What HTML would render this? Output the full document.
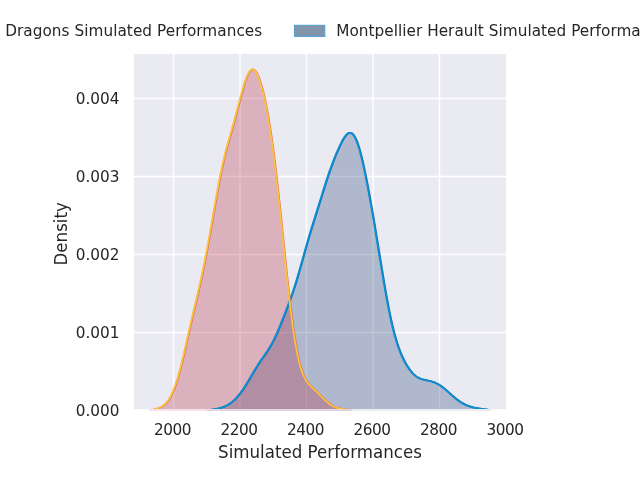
<!DOCTYPE html>
<html lang="en"><head><meta charset="utf-8"><title>Simulated Performances</title>
<style>
html,body{margin:0;padding:0;background:#fff;}
body{width:640px;height:480px;overflow:hidden;}
svg{display:block;}
text{font-family:"DejaVu Sans","Liberation Sans",sans-serif;fill:#262626;}
.tick text{font-size:15.28px;}
.lab{font-size:16.67px;}
.leg text{font-size:15.28px;}
</style></head><body>
<svg width="640" height="480" viewBox="0 0 640 480">
<defs><clipPath id="ax"><rect x="134.0" y="54.0" width="372.0" height="355.05"/></clipPath></defs>
<rect width="640" height="480" fill="#ffffff"/>
<rect x="134.0" y="54.0" width="372.0" height="355.2" fill="#eaeaf2"/>
<g stroke="#ffffff" stroke-width="1.39" stroke-linecap="butt"><line x1="173.5" y1="54.0" x2="173.5" y2="409.2"/><line x1="240" y1="54.0" x2="240" y2="409.2"/><line x1="306.5" y1="54.0" x2="306.5" y2="409.2"/><line x1="373" y1="54.0" x2="373" y2="409.2"/><line x1="439.5" y1="54.0" x2="439.5" y2="409.2"/><line x1="134.0" y1="332.5" x2="506.0" y2="332.5"/><line x1="134.0" y1="254.5" x2="506.0" y2="254.5"/><line x1="134.0" y1="176.5" x2="506.0" y2="176.5"/><line x1="134.0" y1="98.5" x2="506.0" y2="98.5"/></g>
<g clip-path="url(#ax)">
<path d="M206.50,410.54 L207.00,410.46 L207.50,410.38 L208.00,410.30 L208.50,410.23 L209.00,410.15 L209.50,410.07 L210.00,409.99 L210.50,409.91 L211.00,409.83 L211.50,409.75 L212.00,409.67 L212.50,409.59 L213.00,409.50 L213.50,409.42 L214.00,409.33 L214.50,409.24 L215.00,409.14 L215.50,409.05 L216.00,408.95 L216.50,408.84 L217.00,408.74 L217.50,408.63 L218.00,408.51 L218.50,408.39 L219.00,408.26 L219.50,408.13 L220.00,408.00 L220.50,407.85 L221.00,407.70 L221.50,407.55 L222.00,407.38 L222.50,407.20 L223.00,407.02 L223.50,406.82 L224.00,406.62 L224.50,406.40 L225.00,406.18 L225.50,405.94 L226.00,405.70 L226.50,405.44 L227.00,405.17 L227.50,404.89 L228.00,404.59 L228.50,404.29 L229.00,403.97 L229.50,403.64 L230.00,403.29 L230.50,402.94 L231.00,402.56 L231.50,402.18 L232.00,401.78 L232.50,401.37 L233.00,400.94 L233.50,400.50 L234.00,400.04 L234.50,399.57 L235.00,399.08 L235.50,398.58 L236.00,398.06 L236.50,397.53 L237.00,396.98 L237.50,396.42 L238.00,395.84 L238.50,395.24 L239.00,394.63 L239.50,394.00 L240.00,393.36 L240.50,392.70 L241.00,392.03 L241.50,391.34 L242.00,390.64 L242.50,389.92 L243.00,389.19 L243.50,388.45 L244.00,387.69 L244.50,386.92 L245.00,386.14 L245.50,385.34 L246.00,384.54 L246.50,383.73 L247.00,382.90 L247.50,382.07 L248.00,381.24 L248.50,380.39 L249.00,379.55 L249.50,378.69 L250.00,377.84 L250.50,376.98 L251.00,376.12 L251.50,375.27 L252.00,374.41 L252.50,373.56 L253.00,372.71 L253.50,371.86 L254.00,371.02 L254.50,370.19 L255.00,369.36 L255.50,368.54 L256.00,367.72 L256.50,366.92 L257.00,366.12 L257.50,365.33 L258.00,364.56 L258.50,363.79 L259.00,363.03 L259.50,362.27 L260.00,361.53 L260.50,360.79 L261.00,360.06 L261.50,359.33 L262.00,358.61 L262.50,357.90 L263.00,357.18 L263.50,356.47 L264.00,355.75 L264.50,355.04 L265.00,354.32 L265.50,353.60 L266.00,352.87 L266.50,352.13 L267.00,351.38 L267.50,350.62 L268.00,349.85 L268.50,349.07 L269.00,348.27 L269.50,347.45 L270.00,346.62 L270.50,345.76 L271.00,344.89 L271.50,343.99 L272.00,343.08 L272.50,342.14 L273.00,341.18 L273.50,340.20 L274.00,339.20 L274.50,338.17 L275.00,337.13 L275.50,336.06 L276.00,334.97 L276.50,333.86 L277.00,332.74 L277.50,331.59 L278.00,330.43 L278.50,329.25 L279.00,328.06 L279.50,326.86 L280.00,325.64 L280.50,324.41 L281.00,323.17 L281.50,321.92 L282.00,320.67 L282.50,319.40 L283.00,318.13 L283.50,316.85 L284.00,315.57 L284.50,314.28 L285.00,312.99 L285.50,311.68 L286.00,310.38 L286.50,309.06 L287.00,307.74 L287.50,306.41 L288.00,305.08 L288.50,303.73 L289.00,302.37 L289.50,301.00 L290.00,299.62 L290.50,298.23 L291.00,296.82 L291.50,295.39 L292.00,293.94 L292.50,292.48 L293.00,291.00 L293.50,289.50 L294.00,287.98 L294.50,286.43 L295.00,284.87 L295.50,283.28 L296.00,281.67 L296.50,280.04 L297.00,278.39 L297.50,276.72 L298.00,275.03 L298.50,273.32 L299.00,271.60 L299.50,269.85 L300.00,268.10 L300.50,266.33 L301.00,264.56 L301.50,262.77 L302.00,260.98 L302.50,259.19 L303.00,257.39 L303.50,255.59 L304.00,253.80 L304.50,252.00 L305.00,250.22 L305.50,248.44 L306.00,246.67 L306.50,244.91 L307.00,243.16 L307.50,241.42 L308.00,239.70 L308.50,237.98 L309.00,236.28 L309.50,234.60 L310.00,232.92 L310.50,231.26 L311.00,229.61 L311.50,227.97 L312.00,226.34 L312.50,224.72 L313.00,223.11 L313.50,221.50 L314.00,219.90 L314.50,218.31 L315.00,216.71 L315.50,215.12 L316.00,213.53 L316.50,211.94 L317.00,210.35 L317.50,208.76 L318.00,207.16 L318.50,205.56 L319.00,203.96 L319.50,202.36 L320.00,200.76 L320.50,199.15 L321.00,197.54 L321.50,195.93 L322.00,194.33 L322.50,192.72 L323.00,191.12 L323.50,189.52 L324.00,187.93 L324.50,186.34 L325.00,184.76 L325.50,183.20 L326.00,181.64 L326.50,180.10 L327.00,178.57 L327.50,177.05 L328.00,175.56 L328.50,174.07 L329.00,172.61 L329.50,171.17 L330.00,169.74 L330.50,168.33 L331.00,166.95 L331.50,165.58 L332.00,164.23 L332.50,162.90 L333.00,161.59 L333.50,160.30 L334.00,159.03 L334.50,157.77 L335.00,156.53 L335.50,155.31 L336.00,154.11 L336.50,152.92 L337.00,151.76 L337.50,150.60 L338.00,149.47 L338.50,148.35 L339.00,147.26 L339.50,146.18 L340.00,145.13 L340.50,144.10 L341.00,143.09 L341.50,142.12 L342.00,141.17 L342.50,140.26 L343.00,139.38 L343.50,138.54 L344.00,137.74 L344.50,136.99 L345.00,136.29 L345.50,135.64 L346.00,135.05 L346.50,134.52 L347.00,134.05 L347.50,133.65 L348.00,133.32 L348.50,133.07 L349.00,132.90 L349.50,132.80 L350.00,132.80 L350.50,132.87 L351.00,133.04 L351.50,133.30 L352.00,133.66 L352.50,134.10 L353.00,134.65 L353.50,135.28 L354.00,136.02 L354.50,136.85 L355.00,137.78 L355.50,138.80 L356.00,139.92 L356.50,141.13 L357.00,142.43 L357.50,143.82 L358.00,145.29 L358.50,146.85 L359.00,148.50 L359.50,150.22 L360.00,152.02 L360.50,153.89 L361.00,155.84 L361.50,157.85 L362.00,159.92 L362.50,162.06 L363.00,164.26 L363.50,166.51 L364.00,168.82 L364.50,171.18 L365.00,173.58 L365.50,176.03 L366.00,178.53 L366.50,181.06 L367.00,183.64 L367.50,186.25 L368.00,188.90 L368.50,191.58 L369.00,194.29 L369.50,197.04 L370.00,199.81 L370.50,202.62 L371.00,205.45 L371.50,208.30 L372.00,211.18 L372.50,214.09 L373.00,217.01 L373.50,219.96 L374.00,222.93 L374.50,225.92 L375.00,228.93 L375.50,231.95 L376.00,234.99 L376.50,238.04 L377.00,241.10 L377.50,244.17 L378.00,247.25 L378.50,250.33 L379.00,253.41 L379.50,256.50 L380.00,259.58 L380.50,262.66 L381.00,265.73 L381.50,268.79 L382.00,271.83 L382.50,274.86 L383.00,277.86 L383.50,280.84 L384.00,283.80 L384.50,286.72 L385.00,289.61 L385.50,292.47 L386.00,295.28 L386.50,298.05 L387.00,300.78 L387.50,303.46 L388.00,306.09 L388.50,308.67 L389.00,311.19 L389.50,313.65 L390.00,316.06 L390.50,318.41 L391.00,320.70 L391.50,322.93 L392.00,325.10 L392.50,327.21 L393.00,329.25 L393.50,331.23 L394.00,333.15 L394.50,335.02 L395.00,336.82 L395.50,338.56 L396.00,340.25 L396.50,341.88 L397.00,343.45 L397.50,344.98 L398.00,346.45 L398.50,347.87 L399.00,349.24 L399.50,350.57 L400.00,351.86 L400.50,353.10 L401.00,354.30 L401.50,355.46 L402.00,356.58 L402.50,357.67 L403.00,358.72 L403.50,359.74 L404.00,360.73 L404.50,361.69 L405.00,362.61 L405.50,363.51 L406.00,364.38 L406.50,365.23 L407.00,366.04 L407.50,366.83 L408.00,367.59 L408.50,368.33 L409.00,369.04 L409.50,369.73 L410.00,370.39 L410.50,371.02 L411.00,371.63 L411.50,372.22 L412.00,372.78 L412.50,373.31 L413.00,373.82 L413.50,374.31 L414.00,374.77 L414.50,375.21 L415.00,375.63 L415.50,376.02 L416.00,376.39 L416.50,376.73 L417.00,377.06 L417.50,377.36 L418.00,377.64 L418.50,377.91 L419.00,378.15 L419.50,378.38 L420.00,378.59 L420.50,378.79 L421.00,378.97 L421.50,379.14 L422.00,379.29 L422.50,379.44 L423.00,379.57 L423.50,379.70 L424.00,379.82 L424.50,379.93 L425.00,380.04 L425.50,380.15 L426.00,380.25 L426.50,380.35 L427.00,380.45 L427.50,380.55 L428.00,380.66 L428.50,380.76 L429.00,380.87 L429.50,380.99 L430.00,381.11 L430.50,381.23 L431.00,381.37 L431.50,381.51 L432.00,381.66 L432.50,381.82 L433.00,381.99 L433.50,382.17 L434.00,382.36 L434.50,382.56 L435.00,382.77 L435.50,382.99 L436.00,383.22 L436.50,383.47 L437.00,383.73 L437.50,383.99 L438.00,384.28 L438.50,384.57 L439.00,384.87 L439.50,385.19 L440.00,385.51 L440.50,385.85 L441.00,386.20 L441.50,386.56 L442.00,386.93 L442.50,387.30 L443.00,387.69 L443.50,388.09 L444.00,388.49 L444.50,388.90 L445.00,389.32 L445.50,389.75 L446.00,390.18 L446.50,390.62 L447.00,391.06 L447.50,391.50 L448.00,391.95 L448.50,392.40 L449.00,392.85 L449.50,393.30 L450.00,393.75 L450.50,394.20 L451.00,394.65 L451.50,395.10 L452.00,395.55 L452.50,395.99 L453.00,396.43 L453.50,396.86 L454.00,397.29 L454.50,397.71 L455.00,398.12 L455.50,398.53 L456.00,398.93 L456.50,399.33 L457.00,399.71 L457.50,400.09 L458.00,400.46 L458.50,400.82 L459.00,401.17 L459.50,401.51 L460.00,401.84 L460.50,402.17 L461.00,402.48 L461.50,402.78 L462.00,403.08 L462.50,403.36 L463.00,403.63 L463.50,403.90 L464.00,404.16 L464.50,404.40 L465.00,404.64 L465.50,404.87 L466.00,405.09 L466.50,405.30 L467.00,405.51 L467.50,405.70 L468.00,405.89 L468.50,406.07 L469.00,406.25 L469.50,406.41 L470.00,406.57 L470.50,406.72 L471.00,406.87 L471.50,407.01 L472.00,407.14 L472.50,407.27 L473.00,407.40 L473.50,407.51 L474.00,407.63 L474.50,407.74 L475.00,407.84 L475.50,407.94 L476.00,408.03 L476.50,408.13 L477.00,408.21 L477.50,408.30 L478.00,408.38 L478.50,408.46 L479.00,408.53 L479.50,408.61 L480.00,408.68 L480.50,408.76 L481.00,408.83 L481.50,408.90 L482.00,408.97 L482.50,409.04 L483.00,409.11 L483.50,409.17 L484.00,409.24 L484.50,409.31 L485.00,409.38 L485.50,409.44 L486.00,409.51 L486.50,409.57 L487.00,409.64 L487.50,409.71 L488.00,409.77 L488.50,409.84 L489.00,409.91 L489.50,409.97 L490.00,410.04 L490.50,410.11 L491.00,410.18 L491.50,410.25 L491.50,410.5 L206.50,410.5 Z" fill="rgba(41,71,119,0.30)" stroke="rgba(41,71,119,0.30)" stroke-width="1"/>
<path d="M148.50,410.52 L149.00,410.43 L149.50,410.34 L150.00,410.25 L150.50,410.16 L151.00,410.07 L151.50,409.97 L152.00,409.87 L152.50,409.76 L153.00,409.66 L153.50,409.54 L154.00,409.43 L154.50,409.30 L155.00,409.17 L155.50,409.04 L156.00,408.89 L156.50,408.74 L157.00,408.58 L157.50,408.41 L158.00,408.23 L158.50,408.03 L159.00,407.83 L159.50,407.61 L160.00,407.37 L160.50,407.12 L161.00,406.86 L161.50,406.57 L162.00,406.27 L162.50,405.94 L163.00,405.59 L163.50,405.22 L164.00,404.82 L164.50,404.39 L165.00,403.93 L165.50,403.44 L166.00,402.92 L166.50,402.36 L167.00,401.76 L167.50,401.13 L168.00,400.45 L168.50,399.74 L169.00,398.98 L169.50,398.17 L170.00,397.32 L170.50,396.42 L171.00,395.47 L171.50,394.47 L172.00,393.42 L172.50,392.32 L173.00,391.16 L173.50,389.95 L174.00,388.68 L174.50,387.36 L175.00,385.98 L175.50,384.55 L176.00,383.06 L176.50,381.52 L177.00,379.92 L177.50,378.27 L178.00,376.57 L178.50,374.82 L179.00,373.02 L179.50,371.17 L180.00,369.28 L180.50,367.35 L181.00,365.38 L181.50,363.37 L182.00,361.32 L182.50,359.25 L183.00,357.15 L183.50,355.02 L184.00,352.87 L184.50,350.70 L185.00,348.51 L185.50,346.31 L186.00,344.10 L186.50,341.89 L187.00,339.66 L187.50,337.44 L188.00,335.22 L188.50,333.00 L189.00,330.79 L189.50,328.58 L190.00,326.38 L190.50,324.19 L191.00,322.00 L191.50,319.83 L192.00,317.67 L192.50,315.51 L193.00,313.37 L193.50,311.23 L194.00,309.10 L194.50,306.97 L195.00,304.85 L195.50,302.73 L196.00,300.60 L196.50,298.48 L197.00,296.35 L197.50,294.21 L198.00,292.06 L198.50,289.90 L199.00,287.73 L199.50,285.53 L200.00,283.31 L200.50,281.07 L201.00,278.81 L201.50,276.51 L202.00,274.19 L202.50,271.84 L203.00,269.45 L203.50,267.03 L204.00,264.57 L204.50,262.08 L205.00,259.55 L205.50,256.99 L206.00,254.39 L206.50,251.75 L207.00,249.09 L207.50,246.39 L208.00,243.66 L208.50,240.90 L209.00,238.11 L209.50,235.30 L210.00,232.47 L210.50,229.62 L211.00,226.75 L211.50,223.88 L212.00,220.99 L212.50,218.10 L213.00,215.21 L213.50,212.32 L214.00,209.44 L214.50,206.57 L215.00,203.71 L215.50,200.87 L216.00,198.05 L216.50,195.25 L217.00,192.49 L217.50,189.75 L218.00,187.06 L218.50,184.39 L219.00,181.77 L219.50,179.19 L220.00,176.66 L220.50,174.17 L221.00,171.73 L221.50,169.34 L222.00,167.00 L222.50,164.71 L223.00,162.47 L223.50,160.28 L224.00,158.14 L224.50,156.04 L225.00,153.99 L225.50,151.99 L226.00,150.02 L226.50,148.10 L227.00,146.20 L227.50,144.35 L228.00,142.51 L228.50,140.71 L229.00,138.92 L229.50,137.16 L230.00,135.40 L230.50,133.66 L231.00,131.92 L231.50,130.18 L232.00,128.44 L232.50,126.69 L233.00,124.94 L233.50,123.17 L234.00,121.39 L234.50,119.60 L235.00,117.79 L235.50,115.96 L236.00,114.12 L236.50,112.26 L237.00,110.38 L237.50,108.49 L238.00,106.59 L238.50,104.68 L239.00,102.77 L239.50,100.86 L240.00,98.95 L240.50,97.04 L241.00,95.16 L241.50,93.29 L242.00,91.45 L242.50,89.64 L243.00,87.88 L243.50,86.16 L244.00,84.49 L244.50,82.88 L245.00,81.34 L245.50,79.87 L246.00,78.47 L246.50,77.17 L247.00,75.95 L247.50,74.82 L248.00,73.80 L248.50,72.88 L249.00,72.06 L249.50,71.35 L250.00,70.75 L250.50,70.27 L251.00,69.90 L251.50,69.65 L252.00,69.51 L252.50,69.49 L253.00,69.58 L253.50,69.78 L254.00,70.09 L254.50,70.52 L255.00,71.05 L255.50,71.69 L256.00,72.44 L256.50,73.28 L257.00,74.23 L257.50,75.27 L258.00,76.40 L258.50,77.63 L259.00,78.95 L259.50,80.36 L260.00,81.85 L260.50,83.43 L261.00,85.10 L261.50,86.85 L262.00,88.68 L262.50,90.59 L263.00,92.59 L263.50,94.67 L264.00,96.83 L264.50,99.08 L265.00,101.41 L265.50,103.82 L266.00,106.32 L266.50,108.90 L267.00,111.57 L267.50,114.33 L268.00,117.18 L268.50,120.12 L269.00,123.15 L269.50,126.27 L270.00,129.48 L270.50,132.78 L271.00,136.17 L271.50,139.66 L272.00,143.23 L272.50,146.90 L273.00,150.65 L273.50,154.49 L274.00,158.42 L274.50,162.44 L275.00,166.53 L275.50,170.71 L276.00,174.96 L276.50,179.28 L277.00,183.68 L277.50,188.14 L278.00,192.66 L278.50,197.24 L279.00,201.88 L279.50,206.56 L280.00,211.28 L280.50,216.04 L281.00,220.84 L281.50,225.65 L282.00,230.49 L282.50,235.33 L283.00,240.19 L283.50,245.04 L284.00,249.88 L284.50,254.71 L285.00,259.52 L285.50,264.30 L286.00,269.04 L286.50,273.74 L287.00,278.39 L287.50,282.98 L288.00,287.51 L288.50,291.97 L289.00,296.35 L289.50,300.65 L290.00,304.87 L290.50,308.99 L291.00,313.01 L291.50,316.93 L292.00,320.74 L292.50,324.43 L293.00,328.02 L293.50,331.48 L294.00,334.83 L294.50,338.05 L295.00,341.14 L295.50,344.11 L296.00,346.96 L296.50,349.68 L297.00,352.27 L297.50,354.73 L298.00,357.08 L298.50,359.30 L299.00,361.40 L299.50,363.38 L300.00,365.25 L300.50,367.01 L301.00,368.67 L301.50,370.21 L302.00,371.67 L302.50,373.02 L303.00,374.29 L303.50,375.47 L304.00,376.58 L304.50,377.61 L305.00,378.57 L305.50,379.46 L306.00,380.30 L306.50,381.08 L307.00,381.82 L307.50,382.51 L308.00,383.16 L308.50,383.77 L309.00,384.36 L309.50,384.91 L310.00,385.45 L310.50,385.96 L311.00,386.47 L311.50,386.95 L312.00,387.43 L312.50,387.91 L313.00,388.37 L313.50,388.84 L314.00,389.30 L314.50,389.77 L315.00,390.23 L315.50,390.70 L316.00,391.18 L316.50,391.65 L317.00,392.14 L317.50,392.62 L318.00,393.11 L318.50,393.61 L319.00,394.11 L319.50,394.61 L320.00,395.11 L320.50,395.62 L321.00,396.13 L321.50,396.64 L322.00,397.14 L322.50,397.65 L323.00,398.15 L323.50,398.65 L324.00,399.14 L324.50,399.63 L325.00,400.11 L325.50,400.58 L326.00,401.04 L326.50,401.49 L327.00,401.93 L327.50,402.36 L328.00,402.78 L328.50,403.18 L329.00,403.58 L329.50,403.95 L330.00,404.32 L330.50,404.67 L331.00,405.00 L331.50,405.32 L332.00,405.62 L332.50,405.91 L333.00,406.19 L333.50,406.45 L334.00,406.69 L334.50,406.92 L335.00,407.14 L335.50,407.34 L336.00,407.53 L336.50,407.71 L337.00,407.88 L337.50,408.03 L338.00,408.17 L338.50,408.31 L339.00,408.43 L339.50,408.54 L340.00,408.64 L340.50,408.74 L341.00,408.83 L341.50,408.92 L342.00,409.00 L342.50,409.07 L343.00,409.14 L343.50,409.21 L344.00,409.27 L344.50,409.33 L345.00,409.38 L345.50,409.44 L346.00,409.49 L346.50,409.54 L347.00,409.59 L347.50,409.64 L348.00,409.69 L348.50,409.73 L349.00,409.78 L349.50,409.83 L350.00,409.88 L350.50,409.93 L351.00,409.98 L351.50,410.03 L352.00,410.09 L352.50,410.14 L353.00,410.19 L353.00,410.5 L148.50,410.5 Z" fill="rgba(187,47,69,0.30)" stroke="rgba(187,47,69,0.40)" stroke-width="1"/>
<path d="M206.50,410.54 L207.00,410.46 L207.50,410.38 L208.00,410.30 L208.50,410.23 L209.00,410.15 L209.50,410.07 L210.00,409.99 L210.50,409.91 L211.00,409.83 L211.50,409.75 L212.00,409.67 L212.50,409.59 L213.00,409.50 L213.50,409.42 L214.00,409.33 L214.50,409.24 L215.00,409.14 L215.50,409.05 L216.00,408.95 L216.50,408.84 L217.00,408.74 L217.50,408.63 L218.00,408.51 L218.50,408.39 L219.00,408.26 L219.50,408.13 L220.00,408.00 L220.50,407.85 L221.00,407.70 L221.50,407.55 L222.00,407.38 L222.50,407.20 L223.00,407.02 L223.50,406.82 L224.00,406.62 L224.50,406.40 L225.00,406.18 L225.50,405.94 L226.00,405.70 L226.50,405.44 L227.00,405.17 L227.50,404.89 L228.00,404.59 L228.50,404.29 L229.00,403.97 L229.50,403.64 L230.00,403.29 L230.50,402.94 L231.00,402.56 L231.50,402.18 L232.00,401.78 L232.50,401.37 L233.00,400.94 L233.50,400.50 L234.00,400.04 L234.50,399.57 L235.00,399.08 L235.50,398.58 L236.00,398.06 L236.50,397.53 L237.00,396.98 L237.50,396.42 L238.00,395.84 L238.50,395.24 L239.00,394.63 L239.50,394.00 L240.00,393.36 L240.50,392.70 L241.00,392.03 L241.50,391.34 L242.00,390.64 L242.50,389.92 L243.00,389.19 L243.50,388.45 L244.00,387.69 L244.50,386.92 L245.00,386.14 L245.50,385.34 L246.00,384.54 L246.50,383.73 L247.00,382.90 L247.50,382.07 L248.00,381.24 L248.50,380.39 L249.00,379.55 L249.50,378.69 L250.00,377.84 L250.50,376.98 L251.00,376.12 L251.50,375.27 L252.00,374.41 L252.50,373.56 L253.00,372.71 L253.50,371.86 L254.00,371.02 L254.50,370.19 L255.00,369.36 L255.50,368.54 L256.00,367.72 L256.50,366.92 L257.00,366.12 L257.50,365.33 L258.00,364.56 L258.50,363.79 L259.00,363.03 L259.50,362.27 L260.00,361.53 L260.50,360.79 L261.00,360.06 L261.50,359.33 L262.00,358.61 L262.50,357.90 L263.00,357.18 L263.50,356.47 L264.00,355.75 L264.50,355.04 L265.00,354.32 L265.50,353.60 L266.00,352.87 L266.50,352.13 L267.00,351.38 L267.50,350.62 L268.00,349.85 L268.50,349.07 L269.00,348.27 L269.50,347.45 L270.00,346.62 L270.50,345.76 L271.00,344.89 L271.50,343.99 L272.00,343.08 L272.50,342.14 L273.00,341.18 L273.50,340.20 L274.00,339.20 L274.50,338.17 L275.00,337.13 L275.50,336.06 L276.00,334.97 L276.50,333.86 L277.00,332.74 L277.50,331.59 L278.00,330.43 L278.50,329.25 L279.00,328.06 L279.50,326.86 L280.00,325.64 L280.50,324.41 L281.00,323.17 L281.50,321.92 L282.00,320.67 L282.50,319.40 L283.00,318.13 L283.50,316.85 L284.00,315.57 L284.50,314.28 L285.00,312.99 L285.50,311.68 L286.00,310.38 L286.50,309.06 L287.00,307.74 L287.50,306.41 L288.00,305.08 L288.50,303.73 L289.00,302.37 L289.50,301.00 L290.00,299.62 L290.50,298.23 L291.00,296.82 L291.50,295.39 L292.00,293.94 L292.50,292.48 L293.00,291.00 L293.50,289.50 L294.00,287.98 L294.50,286.43 L295.00,284.87 L295.50,283.28 L296.00,281.67 L296.50,280.04 L297.00,278.39 L297.50,276.72 L298.00,275.03 L298.50,273.32 L299.00,271.60 L299.50,269.85 L300.00,268.10 L300.50,266.33 L301.00,264.56 L301.50,262.77 L302.00,260.98 L302.50,259.19 L303.00,257.39 L303.50,255.59 L304.00,253.80 L304.50,252.00 L305.00,250.22 L305.50,248.44 L306.00,246.67 L306.50,244.91 L307.00,243.16 L307.50,241.42 L308.00,239.70 L308.50,237.98 L309.00,236.28 L309.50,234.60 L310.00,232.92 L310.50,231.26 L311.00,229.61 L311.50,227.97 L312.00,226.34 L312.50,224.72 L313.00,223.11 L313.50,221.50 L314.00,219.90 L314.50,218.31 L315.00,216.71 L315.50,215.12 L316.00,213.53 L316.50,211.94 L317.00,210.35 L317.50,208.76 L318.00,207.16 L318.50,205.56 L319.00,203.96 L319.50,202.36 L320.00,200.76 L320.50,199.15 L321.00,197.54 L321.50,195.93 L322.00,194.33 L322.50,192.72 L323.00,191.12 L323.50,189.52 L324.00,187.93 L324.50,186.34 L325.00,184.76 L325.50,183.20 L326.00,181.64 L326.50,180.10 L327.00,178.57 L327.50,177.05 L328.00,175.56 L328.50,174.07 L329.00,172.61 L329.50,171.17 L330.00,169.74 L330.50,168.33 L331.00,166.95 L331.50,165.58 L332.00,164.23 L332.50,162.90 L333.00,161.59 L333.50,160.30 L334.00,159.03 L334.50,157.77 L335.00,156.53 L335.50,155.31 L336.00,154.11 L336.50,152.92 L337.00,151.76 L337.50,150.60 L338.00,149.47 L338.50,148.35 L339.00,147.26 L339.50,146.18 L340.00,145.13 L340.50,144.10 L341.00,143.09 L341.50,142.12 L342.00,141.17 L342.50,140.26 L343.00,139.38 L343.50,138.54 L344.00,137.74 L344.50,136.99 L345.00,136.29 L345.50,135.64 L346.00,135.05 L346.50,134.52 L347.00,134.05 L347.50,133.65 L348.00,133.32 L348.50,133.07 L349.00,132.90 L349.50,132.80 L350.00,132.80 L350.50,132.87 L351.00,133.04 L351.50,133.30 L352.00,133.66 L352.50,134.10 L353.00,134.65 L353.50,135.28 L354.00,136.02 L354.50,136.85 L355.00,137.78 L355.50,138.80 L356.00,139.92 L356.50,141.13 L357.00,142.43 L357.50,143.82 L358.00,145.29 L358.50,146.85 L359.00,148.50 L359.50,150.22 L360.00,152.02 L360.50,153.89 L361.00,155.84 L361.50,157.85 L362.00,159.92 L362.50,162.06 L363.00,164.26 L363.50,166.51 L364.00,168.82 L364.50,171.18 L365.00,173.58 L365.50,176.03 L366.00,178.53 L366.50,181.06 L367.00,183.64 L367.50,186.25 L368.00,188.90 L368.50,191.58 L369.00,194.29 L369.50,197.04 L370.00,199.81 L370.50,202.62 L371.00,205.45 L371.50,208.30 L372.00,211.18 L372.50,214.09 L373.00,217.01 L373.50,219.96 L374.00,222.93 L374.50,225.92 L375.00,228.93 L375.50,231.95 L376.00,234.99 L376.50,238.04 L377.00,241.10 L377.50,244.17 L378.00,247.25 L378.50,250.33 L379.00,253.41 L379.50,256.50 L380.00,259.58 L380.50,262.66 L381.00,265.73 L381.50,268.79 L382.00,271.83 L382.50,274.86 L383.00,277.86 L383.50,280.84 L384.00,283.80 L384.50,286.72 L385.00,289.61 L385.50,292.47 L386.00,295.28 L386.50,298.05 L387.00,300.78 L387.50,303.46 L388.00,306.09 L388.50,308.67 L389.00,311.19 L389.50,313.65 L390.00,316.06 L390.50,318.41 L391.00,320.70 L391.50,322.93 L392.00,325.10 L392.50,327.21 L393.00,329.25 L393.50,331.23 L394.00,333.15 L394.50,335.02 L395.00,336.82 L395.50,338.56 L396.00,340.25 L396.50,341.88 L397.00,343.45 L397.50,344.98 L398.00,346.45 L398.50,347.87 L399.00,349.24 L399.50,350.57 L400.00,351.86 L400.50,353.10 L401.00,354.30 L401.50,355.46 L402.00,356.58 L402.50,357.67 L403.00,358.72 L403.50,359.74 L404.00,360.73 L404.50,361.69 L405.00,362.61 L405.50,363.51 L406.00,364.38 L406.50,365.23 L407.00,366.04 L407.50,366.83 L408.00,367.59 L408.50,368.33 L409.00,369.04 L409.50,369.73 L410.00,370.39 L410.50,371.02 L411.00,371.63 L411.50,372.22 L412.00,372.78 L412.50,373.31 L413.00,373.82 L413.50,374.31 L414.00,374.77 L414.50,375.21 L415.00,375.63 L415.50,376.02 L416.00,376.39 L416.50,376.73 L417.00,377.06 L417.50,377.36 L418.00,377.64 L418.50,377.91 L419.00,378.15 L419.50,378.38 L420.00,378.59 L420.50,378.79 L421.00,378.97 L421.50,379.14 L422.00,379.29 L422.50,379.44 L423.00,379.57 L423.50,379.70 L424.00,379.82 L424.50,379.93 L425.00,380.04 L425.50,380.15 L426.00,380.25 L426.50,380.35 L427.00,380.45 L427.50,380.55 L428.00,380.66 L428.50,380.76 L429.00,380.87 L429.50,380.99 L430.00,381.11 L430.50,381.23 L431.00,381.37 L431.50,381.51 L432.00,381.66 L432.50,381.82 L433.00,381.99 L433.50,382.17 L434.00,382.36 L434.50,382.56 L435.00,382.77 L435.50,382.99 L436.00,383.22 L436.50,383.47 L437.00,383.73 L437.50,383.99 L438.00,384.28 L438.50,384.57 L439.00,384.87 L439.50,385.19 L440.00,385.51 L440.50,385.85 L441.00,386.20 L441.50,386.56 L442.00,386.93 L442.50,387.30 L443.00,387.69 L443.50,388.09 L444.00,388.49 L444.50,388.90 L445.00,389.32 L445.50,389.75 L446.00,390.18 L446.50,390.62 L447.00,391.06 L447.50,391.50 L448.00,391.95 L448.50,392.40 L449.00,392.85 L449.50,393.30 L450.00,393.75 L450.50,394.20 L451.00,394.65 L451.50,395.10 L452.00,395.55 L452.50,395.99 L453.00,396.43 L453.50,396.86 L454.00,397.29 L454.50,397.71 L455.00,398.12 L455.50,398.53 L456.00,398.93 L456.50,399.33 L457.00,399.71 L457.50,400.09 L458.00,400.46 L458.50,400.82 L459.00,401.17 L459.50,401.51 L460.00,401.84 L460.50,402.17 L461.00,402.48 L461.50,402.78 L462.00,403.08 L462.50,403.36 L463.00,403.63 L463.50,403.90 L464.00,404.16 L464.50,404.40 L465.00,404.64 L465.50,404.87 L466.00,405.09 L466.50,405.30 L467.00,405.51 L467.50,405.70 L468.00,405.89 L468.50,406.07 L469.00,406.25 L469.50,406.41 L470.00,406.57 L470.50,406.72 L471.00,406.87 L471.50,407.01 L472.00,407.14 L472.50,407.27 L473.00,407.40 L473.50,407.51 L474.00,407.63 L474.50,407.74 L475.00,407.84 L475.50,407.94 L476.00,408.03 L476.50,408.13 L477.00,408.21 L477.50,408.30 L478.00,408.38 L478.50,408.46 L479.00,408.53 L479.50,408.61 L480.00,408.68 L480.50,408.76 L481.00,408.83 L481.50,408.90 L482.00,408.97 L482.50,409.04 L483.00,409.11 L483.50,409.17 L484.00,409.24 L484.50,409.31 L485.00,409.38 L485.50,409.44 L486.00,409.51 L486.50,409.57 L487.00,409.64 L487.50,409.71 L488.00,409.77 L488.50,409.84 L489.00,409.91 L489.50,409.97 L490.00,410.04 L490.50,410.11 L491.00,410.18 L491.50,410.25" transform="translate(0.5,0)" fill="none" stroke="#0a6cab" stroke-width="1.8" stroke-linejoin="round"/>
<path d="M206.50,410.54 L207.00,410.46 L207.50,410.38 L208.00,410.30 L208.50,410.23 L209.00,410.15 L209.50,410.07 L210.00,409.99 L210.50,409.91 L211.00,409.83 L211.50,409.75 L212.00,409.67 L212.50,409.59 L213.00,409.50 L213.50,409.42 L214.00,409.33 L214.50,409.24 L215.00,409.14 L215.50,409.05 L216.00,408.95 L216.50,408.84 L217.00,408.74 L217.50,408.63 L218.00,408.51 L218.50,408.39 L219.00,408.26 L219.50,408.13 L220.00,408.00 L220.50,407.85 L221.00,407.70 L221.50,407.55 L222.00,407.38 L222.50,407.20 L223.00,407.02 L223.50,406.82 L224.00,406.62 L224.50,406.40 L225.00,406.18 L225.50,405.94 L226.00,405.70 L226.50,405.44 L227.00,405.17 L227.50,404.89 L228.00,404.59 L228.50,404.29 L229.00,403.97 L229.50,403.64 L230.00,403.29 L230.50,402.94 L231.00,402.56 L231.50,402.18 L232.00,401.78 L232.50,401.37 L233.00,400.94 L233.50,400.50 L234.00,400.04 L234.50,399.57 L235.00,399.08 L235.50,398.58 L236.00,398.06 L236.50,397.53 L237.00,396.98 L237.50,396.42 L238.00,395.84 L238.50,395.24 L239.00,394.63 L239.50,394.00 L240.00,393.36 L240.50,392.70 L241.00,392.03 L241.50,391.34 L242.00,390.64 L242.50,389.92 L243.00,389.19 L243.50,388.45 L244.00,387.69 L244.50,386.92 L245.00,386.14 L245.50,385.34 L246.00,384.54 L246.50,383.73 L247.00,382.90 L247.50,382.07 L248.00,381.24 L248.50,380.39 L249.00,379.55 L249.50,378.69 L250.00,377.84 L250.50,376.98 L251.00,376.12 L251.50,375.27 L252.00,374.41 L252.50,373.56 L253.00,372.71 L253.50,371.86 L254.00,371.02 L254.50,370.19 L255.00,369.36 L255.50,368.54 L256.00,367.72 L256.50,366.92 L257.00,366.12 L257.50,365.33 L258.00,364.56 L258.50,363.79 L259.00,363.03 L259.50,362.27 L260.00,361.53 L260.50,360.79 L261.00,360.06 L261.50,359.33 L262.00,358.61 L262.50,357.90 L263.00,357.18 L263.50,356.47 L264.00,355.75 L264.50,355.04 L265.00,354.32 L265.50,353.60 L266.00,352.87 L266.50,352.13 L267.00,351.38 L267.50,350.62 L268.00,349.85 L268.50,349.07 L269.00,348.27 L269.50,347.45 L270.00,346.62 L270.50,345.76 L271.00,344.89 L271.50,343.99 L272.00,343.08 L272.50,342.14 L273.00,341.18 L273.50,340.20 L274.00,339.20 L274.50,338.17 L275.00,337.13 L275.50,336.06 L276.00,334.97 L276.50,333.86 L277.00,332.74 L277.50,331.59 L278.00,330.43 L278.50,329.25 L279.00,328.06 L279.50,326.86 L280.00,325.64 L280.50,324.41 L281.00,323.17 L281.50,321.92 L282.00,320.67 L282.50,319.40 L283.00,318.13 L283.50,316.85 L284.00,315.57 L284.50,314.28 L285.00,312.99 L285.50,311.68 L286.00,310.38 L286.50,309.06 L287.00,307.74 L287.50,306.41 L288.00,305.08 L288.50,303.73 L289.00,302.37 L289.50,301.00 L290.00,299.62 L290.50,298.23 L291.00,296.82 L291.50,295.39 L292.00,293.94 L292.50,292.48 L293.00,291.00 L293.50,289.50 L294.00,287.98 L294.50,286.43 L295.00,284.87 L295.50,283.28 L296.00,281.67 L296.50,280.04 L297.00,278.39 L297.50,276.72 L298.00,275.03 L298.50,273.32 L299.00,271.60 L299.50,269.85 L300.00,268.10 L300.50,266.33 L301.00,264.56 L301.50,262.77 L302.00,260.98 L302.50,259.19 L303.00,257.39 L303.50,255.59 L304.00,253.80 L304.50,252.00 L305.00,250.22 L305.50,248.44 L306.00,246.67 L306.50,244.91 L307.00,243.16 L307.50,241.42 L308.00,239.70 L308.50,237.98 L309.00,236.28 L309.50,234.60 L310.00,232.92 L310.50,231.26 L311.00,229.61 L311.50,227.97 L312.00,226.34 L312.50,224.72 L313.00,223.11 L313.50,221.50 L314.00,219.90 L314.50,218.31 L315.00,216.71 L315.50,215.12 L316.00,213.53 L316.50,211.94 L317.00,210.35 L317.50,208.76 L318.00,207.16 L318.50,205.56 L319.00,203.96 L319.50,202.36 L320.00,200.76 L320.50,199.15 L321.00,197.54 L321.50,195.93 L322.00,194.33 L322.50,192.72 L323.00,191.12 L323.50,189.52 L324.00,187.93 L324.50,186.34 L325.00,184.76 L325.50,183.20 L326.00,181.64 L326.50,180.10 L327.00,178.57 L327.50,177.05 L328.00,175.56 L328.50,174.07 L329.00,172.61 L329.50,171.17 L330.00,169.74 L330.50,168.33 L331.00,166.95 L331.50,165.58 L332.00,164.23 L332.50,162.90 L333.00,161.59 L333.50,160.30 L334.00,159.03 L334.50,157.77 L335.00,156.53 L335.50,155.31 L336.00,154.11 L336.50,152.92 L337.00,151.76 L337.50,150.60 L338.00,149.47 L338.50,148.35 L339.00,147.26 L339.50,146.18 L340.00,145.13 L340.50,144.10 L341.00,143.09 L341.50,142.12 L342.00,141.17 L342.50,140.26 L343.00,139.38 L343.50,138.54 L344.00,137.74 L344.50,136.99 L345.00,136.29 L345.50,135.64 L346.00,135.05 L346.50,134.52 L347.00,134.05 L347.50,133.65 L348.00,133.32 L348.50,133.07 L349.00,132.90 L349.50,132.80 L350.00,132.80 L350.50,132.87 L351.00,133.04 L351.50,133.30 L352.00,133.66 L352.50,134.10 L353.00,134.65 L353.50,135.28 L354.00,136.02 L354.50,136.85 L355.00,137.78 L355.50,138.80 L356.00,139.92 L356.50,141.13 L357.00,142.43 L357.50,143.82 L358.00,145.29 L358.50,146.85 L359.00,148.50 L359.50,150.22 L360.00,152.02 L360.50,153.89 L361.00,155.84 L361.50,157.85 L362.00,159.92 L362.50,162.06 L363.00,164.26 L363.50,166.51 L364.00,168.82 L364.50,171.18 L365.00,173.58 L365.50,176.03 L366.00,178.53 L366.50,181.06 L367.00,183.64 L367.50,186.25 L368.00,188.90 L368.50,191.58 L369.00,194.29 L369.50,197.04 L370.00,199.81 L370.50,202.62 L371.00,205.45 L371.50,208.30 L372.00,211.18 L372.50,214.09 L373.00,217.01 L373.50,219.96 L374.00,222.93 L374.50,225.92 L375.00,228.93 L375.50,231.95 L376.00,234.99 L376.50,238.04 L377.00,241.10 L377.50,244.17 L378.00,247.25 L378.50,250.33 L379.00,253.41 L379.50,256.50 L380.00,259.58 L380.50,262.66 L381.00,265.73 L381.50,268.79 L382.00,271.83 L382.50,274.86 L383.00,277.86 L383.50,280.84 L384.00,283.80 L384.50,286.72 L385.00,289.61 L385.50,292.47 L386.00,295.28 L386.50,298.05 L387.00,300.78 L387.50,303.46 L388.00,306.09 L388.50,308.67 L389.00,311.19 L389.50,313.65 L390.00,316.06 L390.50,318.41 L391.00,320.70 L391.50,322.93 L392.00,325.10 L392.50,327.21 L393.00,329.25 L393.50,331.23 L394.00,333.15 L394.50,335.02 L395.00,336.82 L395.50,338.56 L396.00,340.25 L396.50,341.88 L397.00,343.45 L397.50,344.98 L398.00,346.45 L398.50,347.87 L399.00,349.24 L399.50,350.57 L400.00,351.86 L400.50,353.10 L401.00,354.30 L401.50,355.46 L402.00,356.58 L402.50,357.67 L403.00,358.72 L403.50,359.74 L404.00,360.73 L404.50,361.69 L405.00,362.61 L405.50,363.51 L406.00,364.38 L406.50,365.23 L407.00,366.04 L407.50,366.83 L408.00,367.59 L408.50,368.33 L409.00,369.04 L409.50,369.73 L410.00,370.39 L410.50,371.02 L411.00,371.63 L411.50,372.22 L412.00,372.78 L412.50,373.31 L413.00,373.82 L413.50,374.31 L414.00,374.77 L414.50,375.21 L415.00,375.63 L415.50,376.02 L416.00,376.39 L416.50,376.73 L417.00,377.06 L417.50,377.36 L418.00,377.64 L418.50,377.91 L419.00,378.15 L419.50,378.38 L420.00,378.59 L420.50,378.79 L421.00,378.97 L421.50,379.14 L422.00,379.29 L422.50,379.44 L423.00,379.57 L423.50,379.70 L424.00,379.82 L424.50,379.93 L425.00,380.04 L425.50,380.15 L426.00,380.25 L426.50,380.35 L427.00,380.45 L427.50,380.55 L428.00,380.66 L428.50,380.76 L429.00,380.87 L429.50,380.99 L430.00,381.11 L430.50,381.23 L431.00,381.37 L431.50,381.51 L432.00,381.66 L432.50,381.82 L433.00,381.99 L433.50,382.17 L434.00,382.36 L434.50,382.56 L435.00,382.77 L435.50,382.99 L436.00,383.22 L436.50,383.47 L437.00,383.73 L437.50,383.99 L438.00,384.28 L438.50,384.57 L439.00,384.87 L439.50,385.19 L440.00,385.51 L440.50,385.85 L441.00,386.20 L441.50,386.56 L442.00,386.93 L442.50,387.30 L443.00,387.69 L443.50,388.09 L444.00,388.49 L444.50,388.90 L445.00,389.32 L445.50,389.75 L446.00,390.18 L446.50,390.62 L447.00,391.06 L447.50,391.50 L448.00,391.95 L448.50,392.40 L449.00,392.85 L449.50,393.30 L450.00,393.75 L450.50,394.20 L451.00,394.65 L451.50,395.10 L452.00,395.55 L452.50,395.99 L453.00,396.43 L453.50,396.86 L454.00,397.29 L454.50,397.71 L455.00,398.12 L455.50,398.53 L456.00,398.93 L456.50,399.33 L457.00,399.71 L457.50,400.09 L458.00,400.46 L458.50,400.82 L459.00,401.17 L459.50,401.51 L460.00,401.84 L460.50,402.17 L461.00,402.48 L461.50,402.78 L462.00,403.08 L462.50,403.36 L463.00,403.63 L463.50,403.90 L464.00,404.16 L464.50,404.40 L465.00,404.64 L465.50,404.87 L466.00,405.09 L466.50,405.30 L467.00,405.51 L467.50,405.70 L468.00,405.89 L468.50,406.07 L469.00,406.25 L469.50,406.41 L470.00,406.57 L470.50,406.72 L471.00,406.87 L471.50,407.01 L472.00,407.14 L472.50,407.27 L473.00,407.40 L473.50,407.51 L474.00,407.63 L474.50,407.74 L475.00,407.84 L475.50,407.94 L476.00,408.03 L476.50,408.13 L477.00,408.21 L477.50,408.30 L478.00,408.38 L478.50,408.46 L479.00,408.53 L479.50,408.61 L480.00,408.68 L480.50,408.76 L481.00,408.83 L481.50,408.90 L482.00,408.97 L482.50,409.04 L483.00,409.11 L483.50,409.17 L484.00,409.24 L484.50,409.31 L485.00,409.38 L485.50,409.44 L486.00,409.51 L486.50,409.57 L487.00,409.64 L487.50,409.71 L488.00,409.77 L488.50,409.84 L489.00,409.91 L489.50,409.97 L490.00,410.04 L490.50,410.11 L491.00,410.18 L491.50,410.25" fill="none" stroke="#0f8ed2" stroke-width="1.8" stroke-linejoin="round"/>
<path d="M148.50,410.52 L149.00,410.43 L149.50,410.34 L150.00,410.25 L150.50,410.16 L151.00,410.07 L151.50,409.97 L152.00,409.87 L152.50,409.76 L153.00,409.66 L153.50,409.54 L154.00,409.43 L154.50,409.30 L155.00,409.17 L155.50,409.04 L156.00,408.89 L156.50,408.74 L157.00,408.58 L157.50,408.41 L158.00,408.23 L158.50,408.03 L159.00,407.83 L159.50,407.61 L160.00,407.37 L160.50,407.12 L161.00,406.86 L161.50,406.57 L162.00,406.27 L162.50,405.94 L163.00,405.59 L163.50,405.22 L164.00,404.82 L164.50,404.39 L165.00,403.93 L165.50,403.44 L166.00,402.92 L166.50,402.36 L167.00,401.76 L167.50,401.13 L168.00,400.45 L168.50,399.74 L169.00,398.98 L169.50,398.17 L170.00,397.32 L170.50,396.42 L171.00,395.47 L171.50,394.47 L172.00,393.42 L172.50,392.32 L173.00,391.16 L173.50,389.95 L174.00,388.68 L174.50,387.36 L175.00,385.98 L175.50,384.55 L176.00,383.06 L176.50,381.52 L177.00,379.92 L177.50,378.27 L178.00,376.57 L178.50,374.82 L179.00,373.02 L179.50,371.17 L180.00,369.28 L180.50,367.35 L181.00,365.38 L181.50,363.37 L182.00,361.32 L182.50,359.25 L183.00,357.15 L183.50,355.02 L184.00,352.87 L184.50,350.70 L185.00,348.51 L185.50,346.31 L186.00,344.10 L186.50,341.89 L187.00,339.66 L187.50,337.44 L188.00,335.22 L188.50,333.00 L189.00,330.79 L189.50,328.58 L190.00,326.38 L190.50,324.19 L191.00,322.00 L191.50,319.83 L192.00,317.67 L192.50,315.51 L193.00,313.37 L193.50,311.23 L194.00,309.10 L194.50,306.97 L195.00,304.85 L195.50,302.73 L196.00,300.60 L196.50,298.48 L197.00,296.35 L197.50,294.21 L198.00,292.06 L198.50,289.90 L199.00,287.73 L199.50,285.53 L200.00,283.31 L200.50,281.07 L201.00,278.81 L201.50,276.51 L202.00,274.19 L202.50,271.84 L203.00,269.45 L203.50,267.03 L204.00,264.57 L204.50,262.08 L205.00,259.55 L205.50,256.99 L206.00,254.39 L206.50,251.75 L207.00,249.09 L207.50,246.39 L208.00,243.66 L208.50,240.90 L209.00,238.11 L209.50,235.30 L210.00,232.47 L210.50,229.62 L211.00,226.75 L211.50,223.88 L212.00,220.99 L212.50,218.10 L213.00,215.21 L213.50,212.32 L214.00,209.44 L214.50,206.57 L215.00,203.71 L215.50,200.87 L216.00,198.05 L216.50,195.25 L217.00,192.49 L217.50,189.75 L218.00,187.06 L218.50,184.39 L219.00,181.77 L219.50,179.19 L220.00,176.66 L220.50,174.17 L221.00,171.73 L221.50,169.34 L222.00,167.00 L222.50,164.71 L223.00,162.47 L223.50,160.28 L224.00,158.14 L224.50,156.04 L225.00,153.99 L225.50,151.99 L226.00,150.02 L226.50,148.10 L227.00,146.20 L227.50,144.35 L228.00,142.51 L228.50,140.71 L229.00,138.92 L229.50,137.16 L230.00,135.40 L230.50,133.66 L231.00,131.92 L231.50,130.18 L232.00,128.44 L232.50,126.69 L233.00,124.94 L233.50,123.17 L234.00,121.39 L234.50,119.60 L235.00,117.79 L235.50,115.96 L236.00,114.12 L236.50,112.26 L237.00,110.38 L237.50,108.49 L238.00,106.59 L238.50,104.68 L239.00,102.77 L239.50,100.86 L240.00,98.95 L240.50,97.04 L241.00,95.16 L241.50,93.29 L242.00,91.45 L242.50,89.64 L243.00,87.88 L243.50,86.16 L244.00,84.49 L244.50,82.88 L245.00,81.34 L245.50,79.87 L246.00,78.47 L246.50,77.17 L247.00,75.95 L247.50,74.82 L248.00,73.80 L248.50,72.88 L249.00,72.06 L249.50,71.35 L250.00,70.75 L250.50,70.27 L251.00,69.90 L251.50,69.65 L252.00,69.51 L252.50,69.49 L253.00,69.58 L253.50,69.78 L254.00,70.09 L254.50,70.52 L255.00,71.05 L255.50,71.69 L256.00,72.44 L256.50,73.28 L257.00,74.23 L257.50,75.27 L258.00,76.40 L258.50,77.63 L259.00,78.95 L259.50,80.36 L260.00,81.85 L260.50,83.43 L261.00,85.10 L261.50,86.85 L262.00,88.68 L262.50,90.59 L263.00,92.59 L263.50,94.67 L264.00,96.83 L264.50,99.08 L265.00,101.41 L265.50,103.82 L266.00,106.32 L266.50,108.90 L267.00,111.57 L267.50,114.33 L268.00,117.18 L268.50,120.12 L269.00,123.15 L269.50,126.27 L270.00,129.48 L270.50,132.78 L271.00,136.17 L271.50,139.66 L272.00,143.23 L272.50,146.90 L273.00,150.65 L273.50,154.49 L274.00,158.42 L274.50,162.44 L275.00,166.53 L275.50,170.71 L276.00,174.96 L276.50,179.28 L277.00,183.68 L277.50,188.14 L278.00,192.66 L278.50,197.24 L279.00,201.88 L279.50,206.56 L280.00,211.28 L280.50,216.04 L281.00,220.84 L281.50,225.65 L282.00,230.49 L282.50,235.33 L283.00,240.19 L283.50,245.04 L284.00,249.88 L284.50,254.71 L285.00,259.52 L285.50,264.30 L286.00,269.04 L286.50,273.74 L287.00,278.39 L287.50,282.98 L288.00,287.51 L288.50,291.97 L289.00,296.35 L289.50,300.65 L290.00,304.87 L290.50,308.99 L291.00,313.01 L291.50,316.93 L292.00,320.74 L292.50,324.43 L293.00,328.02 L293.50,331.48 L294.00,334.83 L294.50,338.05 L295.00,341.14 L295.50,344.11 L296.00,346.96 L296.50,349.68 L297.00,352.27 L297.50,354.73 L298.00,357.08 L298.50,359.30 L299.00,361.40 L299.50,363.38 L300.00,365.25 L300.50,367.01 L301.00,368.67 L301.50,370.21 L302.00,371.67 L302.50,373.02 L303.00,374.29 L303.50,375.47 L304.00,376.58 L304.50,377.61 L305.00,378.57 L305.50,379.46 L306.00,380.30 L306.50,381.08 L307.00,381.82 L307.50,382.51 L308.00,383.16 L308.50,383.77 L309.00,384.36 L309.50,384.91 L310.00,385.45 L310.50,385.96 L311.00,386.47 L311.50,386.95 L312.00,387.43 L312.50,387.91 L313.00,388.37 L313.50,388.84 L314.00,389.30 L314.50,389.77 L315.00,390.23 L315.50,390.70 L316.00,391.18 L316.50,391.65 L317.00,392.14 L317.50,392.62 L318.00,393.11 L318.50,393.61 L319.00,394.11 L319.50,394.61 L320.00,395.11 L320.50,395.62 L321.00,396.13 L321.50,396.64 L322.00,397.14 L322.50,397.65 L323.00,398.15 L323.50,398.65 L324.00,399.14 L324.50,399.63 L325.00,400.11 L325.50,400.58 L326.00,401.04 L326.50,401.49 L327.00,401.93 L327.50,402.36 L328.00,402.78 L328.50,403.18 L329.00,403.58 L329.50,403.95 L330.00,404.32 L330.50,404.67 L331.00,405.00 L331.50,405.32 L332.00,405.62 L332.50,405.91 L333.00,406.19 L333.50,406.45 L334.00,406.69 L334.50,406.92 L335.00,407.14 L335.50,407.34 L336.00,407.53 L336.50,407.71 L337.00,407.88 L337.50,408.03 L338.00,408.17 L338.50,408.31 L339.00,408.43 L339.50,408.54 L340.00,408.64 L340.50,408.74 L341.00,408.83 L341.50,408.92 L342.00,409.00 L342.50,409.07 L343.00,409.14 L343.50,409.21 L344.00,409.27 L344.50,409.33 L345.00,409.38 L345.50,409.44 L346.00,409.49 L346.50,409.54 L347.00,409.59 L347.50,409.64 L348.00,409.69 L348.50,409.73 L349.00,409.78 L349.50,409.83 L350.00,409.88 L350.50,409.93 L351.00,409.98 L351.50,410.03 L352.00,410.09 L352.50,410.14 L353.00,410.19" transform="translate(0.5,0)" fill="none" stroke="#d9534a" stroke-opacity="0.85" stroke-width="1.8" stroke-linejoin="round"/>
<path d="M148.50,410.52 L149.00,410.43 L149.50,410.34 L150.00,410.25 L150.50,410.16 L151.00,410.07 L151.50,409.97 L152.00,409.87 L152.50,409.76 L153.00,409.66 L153.50,409.54 L154.00,409.43 L154.50,409.30 L155.00,409.17 L155.50,409.04 L156.00,408.89 L156.50,408.74 L157.00,408.58 L157.50,408.41 L158.00,408.23 L158.50,408.03 L159.00,407.83 L159.50,407.61 L160.00,407.37 L160.50,407.12 L161.00,406.86 L161.50,406.57 L162.00,406.27 L162.50,405.94 L163.00,405.59 L163.50,405.22 L164.00,404.82 L164.50,404.39 L165.00,403.93 L165.50,403.44 L166.00,402.92 L166.50,402.36 L167.00,401.76 L167.50,401.13 L168.00,400.45 L168.50,399.74 L169.00,398.98 L169.50,398.17 L170.00,397.32 L170.50,396.42 L171.00,395.47 L171.50,394.47 L172.00,393.42 L172.50,392.32 L173.00,391.16 L173.50,389.95 L174.00,388.68 L174.50,387.36 L175.00,385.98 L175.50,384.55 L176.00,383.06 L176.50,381.52 L177.00,379.92 L177.50,378.27 L178.00,376.57 L178.50,374.82 L179.00,373.02 L179.50,371.17 L180.00,369.28 L180.50,367.35 L181.00,365.38 L181.50,363.37 L182.00,361.32 L182.50,359.25 L183.00,357.15 L183.50,355.02 L184.00,352.87 L184.50,350.70 L185.00,348.51 L185.50,346.31 L186.00,344.10 L186.50,341.89 L187.00,339.66 L187.50,337.44 L188.00,335.22 L188.50,333.00 L189.00,330.79 L189.50,328.58 L190.00,326.38 L190.50,324.19 L191.00,322.00 L191.50,319.83 L192.00,317.67 L192.50,315.51 L193.00,313.37 L193.50,311.23 L194.00,309.10 L194.50,306.97 L195.00,304.85 L195.50,302.73 L196.00,300.60 L196.50,298.48 L197.00,296.35 L197.50,294.21 L198.00,292.06 L198.50,289.90 L199.00,287.73 L199.50,285.53 L200.00,283.31 L200.50,281.07 L201.00,278.81 L201.50,276.51 L202.00,274.19 L202.50,271.84 L203.00,269.45 L203.50,267.03 L204.00,264.57 L204.50,262.08 L205.00,259.55 L205.50,256.99 L206.00,254.39 L206.50,251.75 L207.00,249.09 L207.50,246.39 L208.00,243.66 L208.50,240.90 L209.00,238.11 L209.50,235.30 L210.00,232.47 L210.50,229.62 L211.00,226.75 L211.50,223.88 L212.00,220.99 L212.50,218.10 L213.00,215.21 L213.50,212.32 L214.00,209.44 L214.50,206.57 L215.00,203.71 L215.50,200.87 L216.00,198.05 L216.50,195.25 L217.00,192.49 L217.50,189.75 L218.00,187.06 L218.50,184.39 L219.00,181.77 L219.50,179.19 L220.00,176.66 L220.50,174.17 L221.00,171.73 L221.50,169.34 L222.00,167.00 L222.50,164.71 L223.00,162.47 L223.50,160.28 L224.00,158.14 L224.50,156.04 L225.00,153.99 L225.50,151.99 L226.00,150.02 L226.50,148.10 L227.00,146.20 L227.50,144.35 L228.00,142.51 L228.50,140.71 L229.00,138.92 L229.50,137.16 L230.00,135.40 L230.50,133.66 L231.00,131.92 L231.50,130.18 L232.00,128.44 L232.50,126.69 L233.00,124.94 L233.50,123.17 L234.00,121.39 L234.50,119.60 L235.00,117.79 L235.50,115.96 L236.00,114.12 L236.50,112.26 L237.00,110.38 L237.50,108.49 L238.00,106.59 L238.50,104.68 L239.00,102.77 L239.50,100.86 L240.00,98.95 L240.50,97.04 L241.00,95.16 L241.50,93.29 L242.00,91.45 L242.50,89.64 L243.00,87.88 L243.50,86.16 L244.00,84.49 L244.50,82.88 L245.00,81.34 L245.50,79.87 L246.00,78.47 L246.50,77.17 L247.00,75.95 L247.50,74.82 L248.00,73.80 L248.50,72.88 L249.00,72.06 L249.50,71.35 L250.00,70.75 L250.50,70.27 L251.00,69.90 L251.50,69.65 L252.00,69.51 L252.50,69.49 L253.00,69.58 L253.50,69.78 L254.00,70.09 L254.50,70.52 L255.00,71.05 L255.50,71.69 L256.00,72.44 L256.50,73.28 L257.00,74.23 L257.50,75.27 L258.00,76.40 L258.50,77.63 L259.00,78.95 L259.50,80.36 L260.00,81.85 L260.50,83.43 L261.00,85.10 L261.50,86.85 L262.00,88.68 L262.50,90.59 L263.00,92.59 L263.50,94.67 L264.00,96.83 L264.50,99.08 L265.00,101.41 L265.50,103.82 L266.00,106.32 L266.50,108.90 L267.00,111.57 L267.50,114.33 L268.00,117.18 L268.50,120.12 L269.00,123.15 L269.50,126.27 L270.00,129.48 L270.50,132.78 L271.00,136.17 L271.50,139.66 L272.00,143.23 L272.50,146.90 L273.00,150.65 L273.50,154.49 L274.00,158.42 L274.50,162.44 L275.00,166.53 L275.50,170.71 L276.00,174.96 L276.50,179.28 L277.00,183.68 L277.50,188.14 L278.00,192.66 L278.50,197.24 L279.00,201.88 L279.50,206.56 L280.00,211.28 L280.50,216.04 L281.00,220.84 L281.50,225.65 L282.00,230.49 L282.50,235.33 L283.00,240.19 L283.50,245.04 L284.00,249.88 L284.50,254.71 L285.00,259.52 L285.50,264.30 L286.00,269.04 L286.50,273.74 L287.00,278.39 L287.50,282.98 L288.00,287.51 L288.50,291.97 L289.00,296.35 L289.50,300.65 L290.00,304.87 L290.50,308.99 L291.00,313.01 L291.50,316.93 L292.00,320.74 L292.50,324.43 L293.00,328.02 L293.50,331.48 L294.00,334.83 L294.50,338.05 L295.00,341.14 L295.50,344.11 L296.00,346.96 L296.50,349.68 L297.00,352.27 L297.50,354.73 L298.00,357.08 L298.50,359.30 L299.00,361.40 L299.50,363.38 L300.00,365.25 L300.50,367.01 L301.00,368.67 L301.50,370.21 L302.00,371.67 L302.50,373.02 L303.00,374.29 L303.50,375.47 L304.00,376.58 L304.50,377.61 L305.00,378.57 L305.50,379.46 L306.00,380.30 L306.50,381.08 L307.00,381.82 L307.50,382.51 L308.00,383.16 L308.50,383.77 L309.00,384.36 L309.50,384.91 L310.00,385.45 L310.50,385.96 L311.00,386.47 L311.50,386.95 L312.00,387.43 L312.50,387.91 L313.00,388.37 L313.50,388.84 L314.00,389.30 L314.50,389.77 L315.00,390.23 L315.50,390.70 L316.00,391.18 L316.50,391.65 L317.00,392.14 L317.50,392.62 L318.00,393.11 L318.50,393.61 L319.00,394.11 L319.50,394.61 L320.00,395.11 L320.50,395.62 L321.00,396.13 L321.50,396.64 L322.00,397.14 L322.50,397.65 L323.00,398.15 L323.50,398.65 L324.00,399.14 L324.50,399.63 L325.00,400.11 L325.50,400.58 L326.00,401.04 L326.50,401.49 L327.00,401.93 L327.50,402.36 L328.00,402.78 L328.50,403.18 L329.00,403.58 L329.50,403.95 L330.00,404.32 L330.50,404.67 L331.00,405.00 L331.50,405.32 L332.00,405.62 L332.50,405.91 L333.00,406.19 L333.50,406.45 L334.00,406.69 L334.50,406.92 L335.00,407.14 L335.50,407.34 L336.00,407.53 L336.50,407.71 L337.00,407.88 L337.50,408.03 L338.00,408.17 L338.50,408.31 L339.00,408.43 L339.50,408.54 L340.00,408.64 L340.50,408.74 L341.00,408.83 L341.50,408.92 L342.00,409.00 L342.50,409.07 L343.00,409.14 L343.50,409.21 L344.00,409.27 L344.50,409.33 L345.00,409.38 L345.50,409.44 L346.00,409.49 L346.50,409.54 L347.00,409.59 L347.50,409.64 L348.00,409.69 L348.50,409.73 L349.00,409.78 L349.50,409.83 L350.00,409.88 L350.50,409.93 L351.00,409.98 L351.50,410.03 L352.00,410.09 L352.50,410.14 L353.00,410.19" fill="none" stroke="#fdc23c" stroke-width="1.8" stroke-linejoin="round"/>
</g>
<line x1="149" y1="410.1" x2="352.5" y2="410.1" stroke="rgba(187,47,69,0.14)" stroke-width="1.8"/><line x1="207" y1="410.1" x2="491" y2="410.1" stroke="rgba(41,71,119,0.10)" stroke-width="1.8"/>
<g class="tick"><text x="154.05" y="434.9" style="letter-spacing:-0.5px">2000</text><text x="220.55" y="434.9" style="letter-spacing:-0.5px">2200</text><text x="287.05" y="434.9" style="letter-spacing:-0.5px">2400</text><text x="353.55" y="434.9" style="letter-spacing:-0.5px">2600</text><text x="420.05" y="434.9" style="letter-spacing:-0.5px">2800</text><text x="486.55" y="434.9" style="letter-spacing:-0.5px">3000</text><text x="119.4" y="416.2" text-anchor="end">0.000</text><text x="119.4" y="338.2" text-anchor="end">0.001</text><text x="119.4" y="260.2" text-anchor="end">0.002</text><text x="119.4" y="182.2" text-anchor="end">0.003</text><text x="119.4" y="104.2" text-anchor="end">0.004</text></g>
<text class="lab" transform="translate(320,457.7) scale(1,1.1)" text-anchor="middle">Simulated Performances</text>
<text class="lab" transform="translate(66.7,233.8) rotate(-90) scale(1,1.1)" text-anchor="middle">Density</text>
<g class="leg">
<text x="262.3" y="35.9" text-anchor="end" style="letter-spacing:0.05px">Dragons Simulated Performances</text>
<rect x="294.5" y="25.4" width="30.2" height="11" fill="#8395ab" stroke="#58a2d0" stroke-width="1.2"/>
<text x="336.2" y="35.9" style="letter-spacing:0.04px">Montpellier Herault Simulated Performances</text>
</g>
</svg>
</body></html>
